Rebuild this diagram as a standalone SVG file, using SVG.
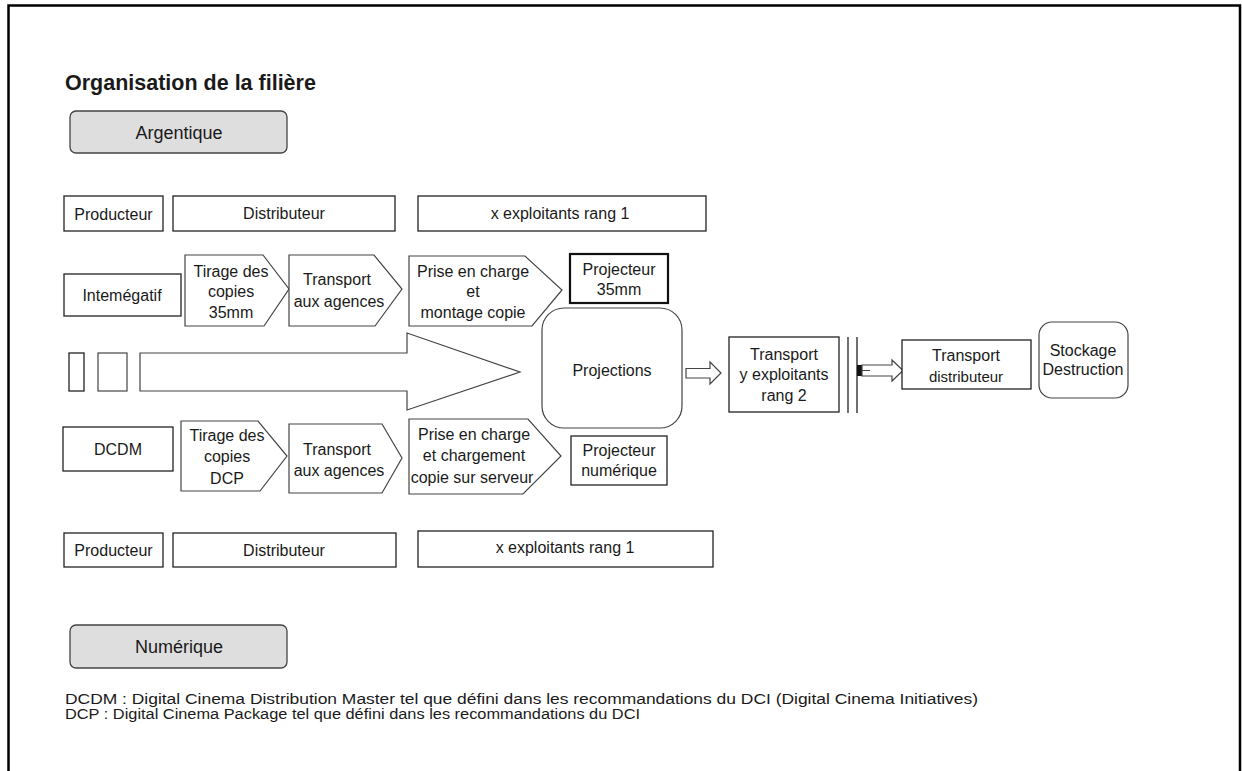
<svg xmlns="http://www.w3.org/2000/svg" width="1242" height="771" viewBox="0 0 1242 771">
<style>
text{font-family:"Liberation Sans",Arial,sans-serif;fill:#1a1a1a;font-size:16px;text-anchor:middle}
.box{fill:#fff;stroke:#222;stroke-width:1.3}
.thick{fill:#fff;stroke:#111;stroke-width:2.2}
.pent{fill:#fff;stroke:#444;stroke-width:1.2}
.grey{fill:#dedede;stroke:#444;stroke-width:1.3}
.lbl{font-size:18px}
.foot{text-anchor:start;font-size:15.5px}
</style>
<rect width="1242" height="771" fill="#fff"/>
<path d="M8.5,780 V5.5 H1240 V780" fill="none" stroke="#000" stroke-width="2.5"/>
<text x="65" y="90" style="text-anchor:start;font-weight:bold;font-size:21.5px">Organisation de la filière</text>

<g id="argentique"><rect class="grey" x="70" y="111" width="217" height="42" rx="6"/><text class="lbl" x="179" y="139">Argentique</text></g>

<g id="producteur1"><rect class="box" x="64" y="196" width="99" height="35"/><text x="113.5" y="220">Producteur</text></g>
<g id="distributeur1"><rect class="box" x="173" y="196" width="222" height="35"/><text x="284" y="219">Distributeur</text></g>
<g id="exploitants1"><rect class="box" x="418" y="196" width="288" height="35"/><text x="560" y="219">x exploitants rang 1</text></g>

<g id="internegatif"><rect class="box" x="64" y="274" width="117" height="42"/><text x="122" y="301">Intemégatif</text></g>
<g id="tirage35"><polygon class="pent" points="185,255 263,255 289,289 264,326 185,326"/><text x="231" y="277">Tirage des</text><text x="231" y="297">copies</text><text x="231" y="318">35mm</text></g>
<g id="transport1"><polygon class="pent" points="289,255 374,255 402,289 375,326 289,326"/><text x="337" y="285">Transport</text><text x="339" y="307">aux agences</text></g>
<g id="prise1"><polygon class="pent" points="409,256 525,256 562,290 532,326 409,326"/><text x="473" y="277">Prise en charge</text><text x="473" y="297">et</text><text x="473" y="318">montage copie</text></g>
<g id="projecteur35"><rect class="thick" x="570" y="254" width="98" height="49"/><text x="619" y="275">Projecteur</text><text x="619" y="295">35mm</text></g>

<g id="flux">
<rect class="box" x="69" y="353" width="15" height="38"/>
<rect class="pent" x="98" y="353" width="29" height="38"/>
<polygon class="pent" points="140,353 407,353 407,333 520,372 407,410 407,391 140,391"/>
</g>

<g id="projections"><rect class="pent" x="542" y="308" width="140" height="120" rx="22"/><text x="612" y="376">Projections</text></g>

<g id="connectors">
<polygon class="pent" points="686,368.5 710,368.5 710,362 721,373 710,384 710,378 686,378"/>
<line x1="848" y1="337" x2="848" y2="413" stroke="#222" stroke-width="1.3"/>
<line x1="857" y1="337" x2="857" y2="413" stroke="#222" stroke-width="1.3"/>
<rect x="857" y="365" width="5" height="11" fill="#111"/>
<polygon class="pent" points="862,365 892,365 892,360 903,370.5 892,381 892,376 862,376"/>
<line x1="862" y1="370.5" x2="870" y2="370.5" stroke="#444" stroke-width="1"/>
</g>

<g id="transport2"><rect class="box" x="729" y="337" width="110" height="75"/><text x="784" y="360">Transport</text><text x="784" y="380">y exploitants</text><text x="784" y="401">rang 2</text></g>
<g id="transportdist"><rect class="box" x="902" y="340" width="129" height="49"/><text x="966" y="361">Transport</text><text x="966" y="382" style="font-size:15px">distributeur</text></g>
<g id="stockage"><rect class="pent" x="1039" y="322" width="89" height="76" rx="13"/><text x="1083" y="356">Stockage</text><text x="1083" y="375">Destruction</text></g>

<g id="dcdm"><rect class="box" x="63" y="427" width="110" height="44"/><text x="118" y="455">DCDM</text></g>
<g id="tiragedcp"><polygon class="pent" points="181,421 258,421 287,456 260,491 181,491"/><text x="227" y="441">Tirage des</text><text x="227" y="462">copies</text><text x="227" y="484">DCP</text></g>
<g id="transport3"><polygon class="pent" points="289,424 382,424 402,458 382,493 289,493"/><text x="337" y="455">Transport</text><text x="339" y="476">aux agences</text></g>
<g id="prise2"><polygon class="pent" points="409,419 528,419 561,456 523,494 409,494"/><text x="474" y="440">Prise en charge</text><text x="474" y="461">et chargement</text><text x="472" y="483">copie sur serveur</text></g>
<g id="projecteurnum"><rect class="box" x="571" y="436" width="96" height="49"/><text x="619" y="456">Projecteur</text><text x="619" y="476">numérique</text></g>

<g id="producteur2"><rect class="box" x="64" y="533" width="99" height="34"/><text x="113.5" y="556">Producteur</text></g>
<g id="distributeur2"><rect class="box" x="173" y="533" width="223" height="34"/><text x="284" y="556">Distributeur</text></g>
<g id="exploitants2"><rect class="box" x="418" y="531" width="295" height="36"/><text x="565" y="553">x exploitants rang 1</text></g>

<g id="numerique"><rect class="grey" x="70" y="625" width="217" height="43" rx="6"/><text class="lbl" x="179" y="653">Numérique</text></g>

<text class="foot" x="65" y="704" textLength="913" lengthAdjust="spacingAndGlyphs">DCDM : Digital Cinema Distribution Master tel que défini dans les recommandations du DCI (Digital Cinema Initiatives)</text>
<text class="foot" x="65" y="719" textLength="575" lengthAdjust="spacingAndGlyphs">DCP : Digital Cinema Package tel que défini dans les recommandations du DCI</text>
</svg>
